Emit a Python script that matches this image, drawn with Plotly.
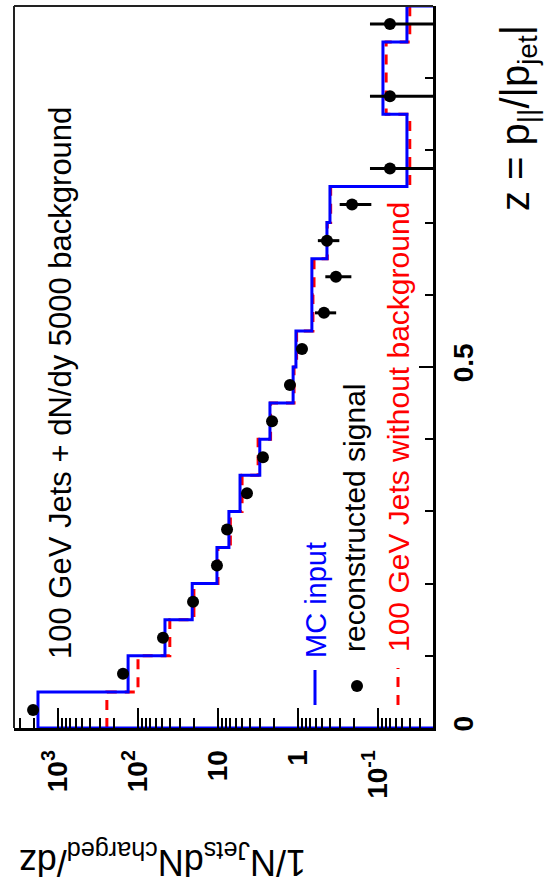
import math
import plotly.graph_objects as go

# ---------------- data ----------------
z_edges = [0.00, 0.05, 0.10, 0.15, 0.20, 0.25, 0.30, 0.35, 0.40, 0.45, 0.50,
           0.55, 0.60, 0.65, 0.70, 0.75, 0.80, 0.85, 0.90, 0.95, 1.00]

mc_input = [1780, 133, 46, 21, 10.3, 7.3, 5.3, 3.0, 2.24, 1.15,
            1.06, 0.67, 0.67, 0.434, 0.398, 0.0434, 0.0434, 0.0866, 0.0866, 0.0434]

no_background = [245, 100, 40, 20, 10.0, 7.0, 5.0, 3.15, 2.2, 1.12,
                 1.04, 0.65, 0.63, 0.43, 0.39, 0.040, 0.040, 0.079, 0.079, 0.040]

reco_z = [0.025, 0.075, 0.125, 0.175, 0.225, 0.275, 0.325, 0.375, 0.425, 0.475,
          0.525, 0.575, 0.625, 0.675, 0.725, 0.775, 0.875, 0.975]
reco_val = [2050, 154, 48.7, 20.5, 10.3, 7.7, 4.34, 2.74, 2.11, 1.26,
            0.89, 0.473, 0.335, 0.434, 0.211, 0.0708, 0.0708, 0.0708]
reco_err = [60, 6, 2.5, 1.2, 0.7, 0.5, 0.35, 0.25, 0.2, 0.12,
            0.1, 0.14, 0.12, 0.13, 0.09, 0.055, 0.055, 0.055]

val_tickvals = [1000, 100, 10, 1, 0.1]
val_ticktext = ["10<sup>3</sup>", "10<sup>2</sup>", "10", "1", "10<sup>-1</sup>"]
z_tickvals = [0, 0.5, 1]
z_ticktext = ["0", "0.5", "1"]

val_min, val_max = 0.0205, 3550.0

# ---------------- helpers ----------------
def step_path(edges, vals, base=None):
    xs, ys = [], []
    if base is not None:
        xs.append(base); ys.append(edges[0])
    for i, v in enumerate(vals):
        xs += [v, v]
        ys += [edges[i], edges[i + 1]]
    if base is not None:
        xs.append(base); ys.append(edges[-1])
    return xs, ys

# plot area in pixels
L, R, T, B = 14, 433, 6, 728
W, H = 547, 894

def px(xp):
    return (xp - L) / (R - L)

def py(yp):
    return (B - yp) / (B - T)

FONT = "Liberation Sans, Arial, sans-serif"

fig = go.Figure()

bx, by = step_path(z_edges, mc_input, base=val_min)
rx, ry = step_path(z_edges, no_background)

fig.add_trace(go.Scatter(x=rx, y=ry, mode="lines",
                         line=dict(color="#ff0000", width=3, dash="10px,8px"),
                         hoverinfo="skip"))
fig.add_trace(go.Scatter(x=bx, y=by, mode="lines",
                         line=dict(color="#0000ff", width=3),
                         hoverinfo="skip"))
fig.add_trace(go.Scatter(x=reco_val, y=reco_z, mode="markers",
                         marker=dict(color="black", size=12, symbol="circle"),
                         error_x=dict(type="data", array=reco_err, thickness=3,
                                      width=0, color="black")))

minor_vals = []
for k in range(-2, 4):
    for m in range(2, 10):
        v = m * 10 ** k
        if val_min < v < val_max:
            minor_vals.append(v)

fig.update_xaxes(type="log",
                 range=[math.log10(val_max), math.log10(val_min)],
                 tickmode="array", tickvals=val_tickvals, ticktext=val_ticktext,
                 tickangle=-90, ticks="inside", ticklen=20, tickwidth=2,
                 tickcolor="black",
                 minor=dict(tickmode="array", tickvals=minor_vals, ticks="inside",
                            ticklen=10, tickwidth=2, tickcolor="black",
                            showgrid=False),
                 showgrid=False, zeroline=False,
                 showline=True, linewidth=3, linecolor="black",
                 ticklabelstandoff=8,
                 tickfont=dict(family=FONT, size=28, color="black", weight="bold"))

fig.update_yaxes(range=[0, 1], side="right",
                 tickmode="array", tickvals=z_tickvals, ticktext=z_ticktext,
                 tickangle=-90, ticks="inside", ticklen=14, tickwidth=2,
                 tickcolor="black",
                 minor=dict(tickmode="array",
                            tickvals=[0.1, 0.2, 0.3, 0.4, 0.6, 0.7, 0.8, 0.9],
                            ticks="inside", ticklen=8, tickwidth=2,
                            tickcolor="black", showgrid=False),
                 showgrid=False, zeroline=False,
                 showline=True, linewidth=3, linecolor="black",
                 ticklabelstandoff=3,
                 tickfont=dict(family=FONT, size=28, color="black", weight="bold"))

# frame (left and top thin lines)
fig.add_shape(type="line", xref="paper", yref="paper", x0=0, x1=0, y0=0, y1=1,
              line=dict(color="#222222", width=2))
fig.add_shape(type="line", xref="paper", yref="paper", x0=0, x1=1, y0=1, y1=1,
              line=dict(color="#222222", width=2))

# legend samples
fig.add_shape(type="line", xref="paper", yref="paper",
              x0=px(315), x1=px(315), y0=py(705), y1=py(670),
              line=dict(color="#0000ff", width=3))
fig.add_shape(type="circle", xref="paper", yref="paper",
              xsizemode="pixel", ysizemode="pixel",
              xanchor=px(357), yanchor=py(686), x0=-6, x1=6, y0=-6, y1=6,
              fillcolor="black", line=dict(color="black", width=0))
fig.add_shape(type="line", xref="paper", yref="paper",
              x0=px(398), x1=px(398), y0=py(705), y1=py(668),
              line=dict(color="#ff0000", width=3, dash="10px,8px"))

def ann(text, x, y, size, color="black", angle=-90):
    fig.add_annotation(text=text, xref="paper", yref="paper",
                       x=px(x), y=py(y), xanchor="center", yanchor="middle",
                       showarrow=False, textangle=angle,
                       font=dict(family=FONT, size=size, color=color))

ann("100 GeV Jets + dN/dy 5000 background", 60, 383, 31)
ann("MC input", 316, 600, 29, color="#0000ff")
ann("reconstructed signal", 354, 518, 30)
ann("100 GeV Jets without background", 398, 427, 30, color="#ff0000")
ann("z = p<sub>||</sub>/|p<sub>jet</sub>|", 518, 118, 40)
ann("1/N<sub>Jets</sub>dN<sub>charged</sub>/dz", 163, 860, 36, angle=180)

fig.update_layout(width=W, height=H,
                  margin=dict(l=L, r=W - R, t=T, b=H - B, pad=0),
                  paper_bgcolor="white", plot_bgcolor="white",
                  showlegend=False)

fig.write_html("out.html", config={"displayModeBar": False},
               post_script="document.body.style.margin='0';document.body.style.padding='0';")
